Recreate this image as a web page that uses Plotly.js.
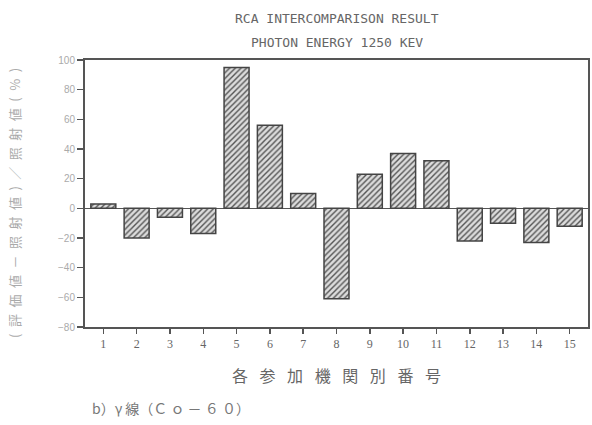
<!DOCTYPE html>
<html>
<head>
<meta charset="utf-8">
<script src="https://cdn.plot.ly/plotly-3.0.1.min.js"></script>
<style>html,body{margin:0;padding:0;background:#fff;}</style>
</head>
<body>
<div id="chart" style="width:592px;height:425px;"></div>
<script>
const labs = [1,2,3,4,5,6,7,8,9,10,11,12,13,14,15];
const values = [3, -20, -6, -17, 95, 56, 10, -61, 23, 37, 32, -22, -10, -23, -12];
const yTicks = [-80,-60,-40,-20,0,20,40,60,80,100];

const trace = {
  type: 'bar',
  x: labs,
  y: values,
  width: 0.75,
  marker: {
    color: '#d8d8d8',
    line: {color: '#444', width: 1.5},
    pattern: {shape: '/', fgcolor: '#555', bgcolor: '#dcdcdc', size: 4, solidity: 0.35}
  },
  hoverinfo: 'skip'
};

const yTitle = ['(', '評', '価', '値', '－', '照', '射', '値', ')', '／', '照', '射', '値', '(', '%', ')'].join('\u2002');
const xTitle = ['各', '参', '加', '機', '関', '別', '番', '号'].join('\u2002 ');

const layout = {
  width: 592, height: 425,
  margin: {l: 85, r: 4, t: 60, b: 98},
  paper_bgcolor: '#fff', plot_bgcolor: '#fff',
  showlegend: false,
  xaxis: {
    range: [0.45, 15.55],
    tickvals: labs, ticktext: labs.map(String),
    ticks: 'outside', ticklen: 5, tickwidth: 1.5, tickcolor: '#555',
    showline: true, linecolor: '#555', linewidth: 2, mirror: true,
    showgrid: false, zeroline: false,
    tickfont: {family: 'Liberation Serif, serif', size: 12, color: '#666'},
    title: {text: xTitle, font: {family: 'Noto Sans CJK JP', size: 16, color: '#666'}, standoff: 20}
  },
  yaxis: {
    range: [-80, 100],
    tickvals: yTicks,
    ticks: 'outside', ticklen: 6, tickwidth: 1.5, tickcolor: '#555',
    showline: true, linecolor: '#555', linewidth: 2, mirror: true,
    showgrid: false, zeroline: true, zerolinecolor: '#555', zerolinewidth: 1.5,
    tickfont: {family: 'Liberation Sans, sans-serif', size: 10, color: '#aaa'}
  },
  annotations: [
    {
      text: 'RCA INTERCOMPARISON RESULT',
      xref: 'paper', yref: 'paper', x: 0.5, y: 1.157, xanchor: 'center', yanchor: 'middle', showarrow: false,
      font: {family: 'DejaVu Sans Mono, monospace', size: 13, color: '#666'}
    },
    {
      text: 'PHOTON ENERGY 1250 KEV',
      xref: 'paper', yref: 'paper', x: 0.5, y: 1.067, xanchor: 'center', yanchor: 'middle', showarrow: false,
      font: {family: 'DejaVu Sans Mono, monospace', size: 13, color: '#666'}
    },
    {
      text: yTitle,
      xref: 'paper', yref: 'paper', x: -0.139, y: 0.465, xanchor: 'center', yanchor: 'middle', showarrow: false,
      textangle: -90,
      font: {family: 'Noto Sans CJK JP', size: 13, color: '#aaa'}
    },
    {
      text: 'b）γ 線（Ｃ ｏ － ６ ０）',
      xref: 'paper', yref: 'paper', x: 0.01, y: -0.303,
      xanchor: 'left', yanchor: 'middle', showarrow: false,
      font: {family: 'Noto Sans CJK JP', size: 14, color: '#777'}
    }
  ]
};

Plotly.newPlot('chart', [trace], layout, {staticPlot: true, displayModeBar: false});
</script>
</body>
</html>
